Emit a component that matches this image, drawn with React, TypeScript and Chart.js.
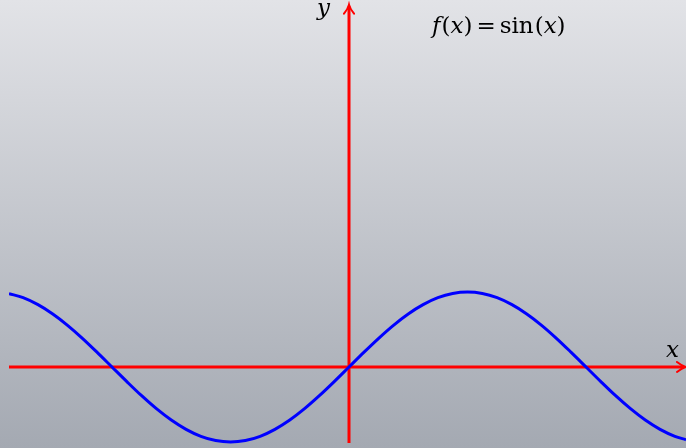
import React, { useEffect, useRef } from "react";
import { Chart, registerables } from "chart.js";

Chart.register(...registerables);

// x in radians, y = value
const xValues = [
  -4.507, -4.32, -4.123, -3.927, -3.731, -3.534, -3.338, -3.142, -2.945, -2.749,
  -2.553, -2.356, -2.16, -1.963, -1.767, -1.571, -1.374, -1.178, -0.982, -0.785,
  -0.589, -0.393, -0.196, 0, 0.196, 0.393, 0.589, 0.785, 0.982, 1.178, 1.374,
  1.571, 1.767, 1.963, 2.16, 2.356, 2.553, 2.749, 2.945, 3.142, 3.338, 3.534,
  3.731, 3.927, 4.123, 4.32, 4.467,
];
const yValues = [
  0.979, 0.924, 0.831, 0.707, 0.556, 0.383, 0.195, 0, -0.195, -0.383, -0.556,
  -0.707, -0.831, -0.924, -0.981, -1.0, -0.981, -0.924, -0.831, -0.707, -0.556,
  -0.383, -0.195, 0, 0.195, 0.383, 0.556, 0.707, 0.831, 0.924, 0.981, 1.0, 0.981,
  0.924, 0.831, 0.707, 0.556, 0.383, 0.195, 0, -0.195, -0.383, -0.556, -0.707,
  -0.831, -0.924, -0.970,
];

const xRange = [-4.507, 4.467];
const yRange = [-1.08, 4.893];
const yAxisExtent = [-1.013, 4.83];
const functionLabel = ["f", "(", "x", ")", "=", "sin", "(", "x", ")"];
const axisLabels = { x: "x", y: "y" };

const W = 686;
const H = 448;

export default function App() {
  const ref = useRef<HTMLCanvasElement | null>(null);

  useEffect(() => {
    document.body.style.margin = "0";
    const canvas = ref.current;
    if (!canvas) return;

    const bgPlugin = {
      id: "bg",
      beforeDraw(chart: any) {
        const ctx = chart.ctx;
        const g = ctx.createLinearGradient(0, 0, 0, chart.height);
        g.addColorStop(0, "#e2e3e7");
        g.addColorStop(1, "#a4a9b2");
        ctx.save();
        ctx.fillStyle = g;
        ctx.fillRect(0, 0, chart.width, chart.height);
        ctx.restore();
      },
    };

    const axesPlugin = {
      id: "axes",
      beforeDatasetsDraw(chart: any) {
        const ctx = chart.ctx;
        const xs = chart.scales.x;
        const ys = chart.scales.y;
        const x0 = xs.getPixelForValue(0);
        const y0 = ys.getPixelForValue(0);
        const xl = xs.getPixelForValue(xRange[0]);
        const xr = xs.getPixelForValue(xRange[1]);
        const yb = ys.getPixelForValue(yAxisExtent[0]);
        const yt = ys.getPixelForValue(yAxisExtent[1]);
        ctx.save();
        ctx.strokeStyle = "#ff0000";
        ctx.lineWidth = 3;
        ctx.lineCap = "butt";
        ctx.beginPath();
        ctx.moveTo(xl, y0);
        ctx.lineTo(xr - 2, y0);
        ctx.moveTo(x0, yb);
        ctx.lineTo(x0, yt + 2);
        ctx.stroke();
        // arrowheads
        ctx.lineWidth = 2;
        ctx.lineCap = "round";
        ctx.beginPath();
        ctx.moveTo(xr - 9, y0 - 5);
        ctx.quadraticCurveTo(xr - 4, y0 - 1, xr, y0);
        ctx.quadraticCurveTo(xr - 4, y0 + 1, xr - 9, y0 + 5);
        ctx.moveTo(x0 - 5, yt + 9);
        ctx.quadraticCurveTo(x0 - 1, yt + 4, x0, yt);
        ctx.quadraticCurveTo(x0 + 1, yt + 4, x0 + 5, yt + 9);
        ctx.stroke();
        ctx.restore();
      },
      afterDraw(chart: any) {
        const ctx = chart.ctx;
        ctx.save();
        ctx.fillStyle = "#000000";
        ctx.textBaseline = "alphabetic";
        const it = "italic 23px 'DejaVu Serif', serif";
        const up = "23px 'DejaVu Serif', serif";
        ctx.font = it;
        ctx.fillText(axisLabels.y, 317, 15);
        ctx.fillText(axisLabels.x, 666, 357);
        let x = 432;
        functionLabel.forEach((s) => {
          const isItalic = s === "f" || s === "x";
          ctx.font = isItalic ? it : up;
          if (s === "=") x += 4;
          ctx.fillText(s, x, 33);
          x += ctx.measureText(s).width;
          if (s === "=") x += 4;
          if (s === "f" || s === "sin") x += 1;
        });
        ctx.restore();
      },
    };

    const chart = new Chart(canvas, {
      type: "line",
      data: {
        datasets: [
          {
            data: xValues.map((v, i) => ({ x: v, y: yValues[i] })),
            borderColor: "#0000ff",
            borderWidth: 3,
            pointRadius: 0,
            cubicInterpolationMode: "monotone",
            fill: false,
          },
        ],
      },
      options: {
        animation: false,
        responsive: false,
        maintainAspectRatio: false,
        layout: { padding: { left: 9, right: 0, top: 0, bottom: 0 } },
        plugins: { legend: { display: false }, tooltip: { enabled: false } },
        scales: {
          x: { type: "linear", min: xRange[0], max: xRange[1], display: false },
          y: { type: "linear", min: yRange[0], max: yRange[1], display: false },
        },
      },
      plugins: [bgPlugin, axesPlugin],
    });
    return () => chart.destroy();
  }, []);

  return (
    <div style={{ width: W, height: H }}>
      <canvas ref={ref} width={W} height={H} />
    </div>
  );
}
